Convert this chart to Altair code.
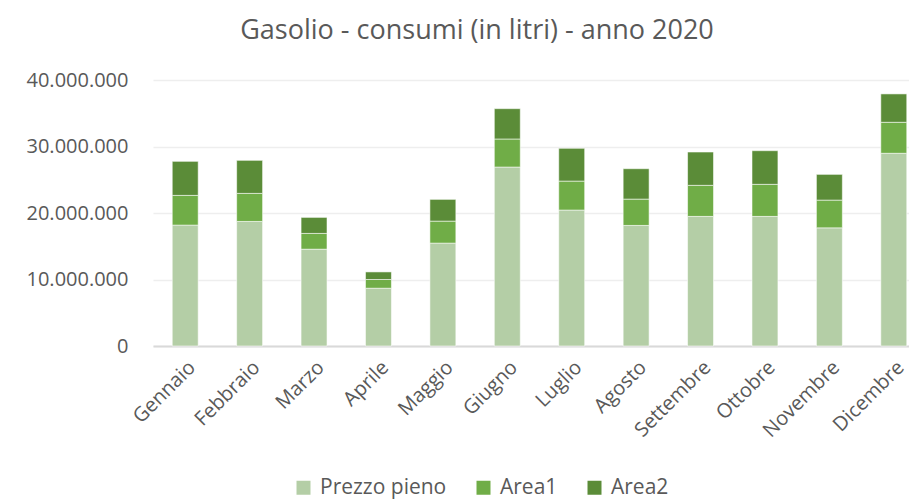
import altair as alt
import pandas as pd

months = ["Gennaio", "Febbraio", "Marzo", "Aprile", "Maggio", "Giugno",
          "Luglio", "Agosto", "Settembre", "Ottobre", "Novembre", "Dicembre"]
series = ["Prezzo pieno", "Area1", "Area2"]
prezzo_pieno = [18180000, 18730000, 14560000, 8690000, 15470000, 26910000,
                20440000, 18130000, 19490000, 19490000, 17770000, 28980000]
area1 = [4470000, 4220000, 2370000, 1310000, 3310000, 4220000,
         4360000, 3960000, 4670000, 4820000, 4170000, 4660000]
area2 = [5120000, 4970000, 2410000, 1140000, 3270000, 4560000,
         4930000, 4570000, 5010000, 5060000, 3870000, 4270000]
colors = ["#B4CEA6", "#70AD47", "#5B8C38"]
y_ticks = [0, 10000000, 20000000, 30000000, 40000000]

rows = []
for i, m in enumerate(months):
    for j, (s, vals) in enumerate(zip(series, [prezzo_pieno, area1, area2])):
        rows.append({"mese": m, "serie": s, "valore": vals[i], "ordine": j})
df = pd.DataFrame(rows)

font = "Open Sans"
gray = "#595959"

chart = alt.Chart(df).mark_bar(stroke="white", strokeWidth=0.8, strokeOpacity=0.7).encode(
    x=alt.X("mese:N", sort=months, title=None,
            scale=alt.Scale(range=[0, 773], paddingInner=0.597, paddingOuter=0.2985),
            axis=alt.Axis(labelAngle=-45, labelFontSize=20, labelColor=gray, labelFont=font,
                          domainColor="#D9D9D9", domainWidth=2, ticks=False,
                          labelPadding=11, grid=False)),
    y=alt.Y("valore:Q", stack="zero", title=None,
            scale=alt.Scale(domain=[0, 40000000], nice=False),
            axis=alt.Axis(values=y_ticks, labelFontSize=20, labelColor=gray, labelFont=font,
                          labelExpr="replace(format(datum.value, ','), regexp(',', 'g'), '.')",
                          domain=False, ticks=False, labelPadding=25,
                          gridColor="#EEEEEE", gridWidth=1.5)),
    color=alt.Color("serie:N", sort=series,
                    scale=alt.Scale(domain=series, range=colors),
                    legend=alt.Legend(orient="none", legendX=140, legendY=397,
                                      direction="horizontal", title=None, padding=0,
                                      symbolType="square", symbolSize=196, symbolStrokeWidth=0,
                                      labelFontSize=21, labelColor=gray, labelFont=font,
                                      columnPadding=26, labelOffset=6)),
    order=alt.Order("ordine:Q", sort="ascending"),
).properties(
    width=756,
    height=266,
    title=alt.TitleParams("Gasolio - consumi (in litri) - anno 2020", fontSize=27,
                          color=gray, font=font, fontWeight="normal", anchor="middle",
                          offset=25, dx=-54),
    autosize=alt.AutoSizeParams(type="none"),
    padding={"top": 72, "left": 145, "right": 0, "bottom": 156},
).configure_view(stroke=None)

chart.save("out.html", embed_options={"renderer": "svg", "actions": False})
